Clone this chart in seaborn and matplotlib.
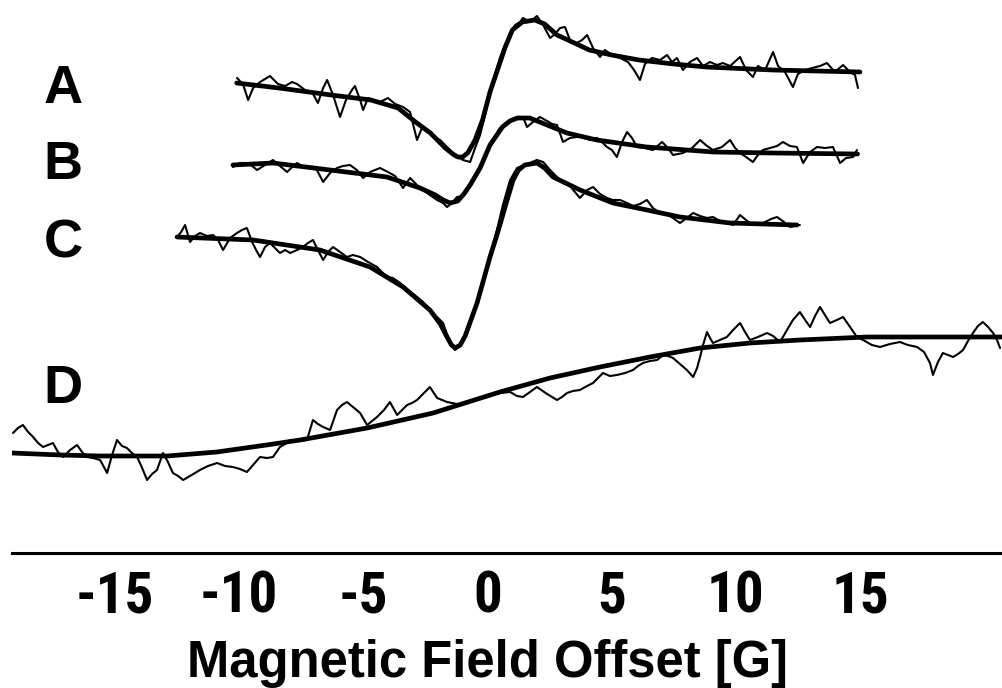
import numpy as np
import pandas as pd
import matplotlib
matplotlib.use("Agg")
import matplotlib.pyplot as plt
from matplotlib import font_manager as fm
import seaborn as sns

# ---------------- data (field offset in G, signal in arbitrary units) ----------------
spectrum_labels = ["A", "B", "C", "D"]
tick_values = [-15, -10, -5, 0, 5, 10, 15]
tick_labels = ["-15", "-10", "-5", "0", "5", "10", "15"]

A_fit = [(-10.1, 467), (-8.4, 462), (-6.3, 455), (-4.7, 450), (-3.6, 442), (-2.9, 428), (-2.3, 417),
         (-1.7, 402), (-1.4, 396), (-1.2, 393), (-1.0, 393), (-0.8, 397), (-0.5, 410), (-0.2, 430),
         (0.1, 458), (0.4, 480), (0.7, 502), (1.0, 520), (1.4, 528), (1.9, 530), (2.3, 526), (2.8, 515),
         (3.5, 507), (4.1, 500), (5.0, 495), (6.1, 490), (7.5, 486), (8.8, 483), (11.5, 480), (15.0, 478)]
A_noise = [(-10.09, 472), (-9.85, 466), (-9.64, 450), (-9.44, 462), (-9.16, 468), (-8.76, 474), (-8.44, 466),
           (-8.15, 464), (-7.87, 468), (-7.67, 466), (-7.35, 460), (-7.07, 458), (-6.83, 447), (-6.62, 462),
           (-6.46, 470), (-6.22, 455), (-5.94, 433), (-5.70, 450), (-5.46, 460), (-5.34, 464), (-5.13, 450),
           (-5.01, 440), (-4.81, 452), (-4.61, 450), (-4.33, 448), (-4.01, 452), (-3.72, 446), (-3.40, 443),
           (-3.12, 438), (-2.84, 410), (-2.64, 422), (-2.40, 420), (-2.19, 413), (-1.91, 410), (-1.63, 403),
           (-1.43, 398), (-1.19, 393), (-0.99, 390), (-0.70, 388), (-0.50, 402), (-0.30, 415), (-0.10, 435),
           (0.10, 455), (0.30, 475), (0.50, 492), (0.70, 505), (0.91, 515), (1.11, 525), (1.31, 528),
           (1.43, 532), (1.71, 528), (1.99, 534), (2.24, 525), (2.52, 512), (2.72, 516), (2.92, 522),
           (3.12, 523), (3.32, 510), (3.52, 506), (3.81, 510), (4.01, 515), (4.25, 502), (4.53, 493),
           (4.73, 500), (5.01, 495), (5.34, 492), (5.66, 488), (5.90, 480), (6.14, 470), (6.34, 486),
           (6.62, 492), (6.95, 490), (7.23, 495), (7.43, 488), (7.63, 492), (7.87, 480), (8.15, 488),
           (8.44, 492), (8.68, 484), (8.96, 488), (9.24, 485), (9.48, 487), (9.77, 484), (10.17, 493),
           (10.41, 480), (10.69, 473), (10.89, 484), (11.18, 480), (11.50, 498), (11.70, 484), (11.98, 478),
           (12.30, 463), (12.50, 476), (12.79, 480), (13.07, 482), (13.39, 484), (13.67, 487), (13.99, 478),
           (14.32, 485), (14.60, 478), (14.80, 475), (14.92, 462)]

B_fit = [(-10.25, 385), (-8.64, 387), (-6.34, 380), (-4.05, 373), (-2.72, 362), (-2.1, 355), (-1.79, 350),
         (-1.5, 347), (-1.2, 349), (-0.95, 356), (-0.7, 365), (-0.3, 382), (0.1, 405), (0.6, 423), (0.9, 429),
         (1.2, 432), (1.7, 432), (2.4, 425), (3.2, 417), (4.4, 410), (6.4, 403), (9.1, 398), (11.5, 397),
         (14.9, 396)]
B_noise = [(-10.25, 383), (-9.97, 387), (-9.69, 387), (-9.48, 384), (-9.28, 380), (-8.96, 385), (-8.64, 390),
           (-8.36, 384), (-8.07, 378), (-7.87, 383), (-7.67, 387), (-7.39, 383), (-7.15, 383), (-6.87, 380),
           (-6.62, 368), (-6.34, 377), (-6.06, 382), (-5.82, 384), (-5.54, 385), (-5.26, 380), (-5.01, 372),
           (-4.73, 378), (-4.53, 380), (-4.33, 382), (-4.01, 378), (-3.72, 374), (-3.40, 362), (-3.12, 372),
           (-2.84, 365), (-2.60, 360), (-2.32, 355), (-2.03, 350), (-1.79, 347), (-1.63, 343), (-1.43, 347),
           (-1.23, 353), (-0.99, 354), (-0.70, 365), (-0.30, 382), (0.10, 405), (0.50, 422), (0.79, 428),
           (1.03, 430), (1.23, 431), (1.43, 433), (1.59, 423), (1.83, 428), (2.11, 433), (2.40, 429),
           (2.60, 426), (2.80, 425), (3.04, 408), (3.32, 412), (3.60, 413), (3.85, 413), (4.13, 410),
           (4.41, 412), (4.61, 408), (4.81, 403), (5.01, 400), (5.21, 393), (5.42, 408), (5.62, 418),
           (5.82, 412), (6.02, 403), (6.34, 402), (6.66, 400), (7.03, 408), (7.27, 402), (7.47, 395),
           (7.87, 397), (8.24, 402), (8.56, 410), (8.84, 404), (9.08, 400), (9.44, 403), (9.77, 410),
           (9.97, 402), (10.17, 397), (10.41, 393), (10.69, 388), (10.89, 395), (11.09, 400), (11.38, 402),
           (11.66, 404), (11.90, 408), (12.18, 404), (12.46, 403), (12.71, 387), (12.99, 398), (13.27, 403),
           (13.59, 402), (13.91, 403), (14.20, 387), (14.44, 392), (14.72, 393), (14.88, 400)]

C_fit = [(-12.5, 313), (-9.44, 310), (-6.75, 300), (-4.73, 283), (-3.4, 263), (-2.32, 240), (-1.9, 226),
         (-1.63, 213), (-1.45, 205), (-1.3, 202), (-1.1, 205), (-0.9, 214), (-0.42, 247), (0.1, 293),
         (0.38, 315), (0.79, 350), (1.03, 370), (1.25, 380), (1.5, 385), (1.99, 387), (2.3, 382), (2.64, 373),
         (3.73, 360), (5.05, 347), (6.42, 340), (7.75, 333), (9.77, 327), (12.46, 325)]
C_noise = [(-12.50, 313), (-12.34, 318), (-12.18, 325), (-11.98, 308), (-11.78, 314), (-11.58, 317),
           (-11.30, 314), (-11.05, 315), (-10.85, 310), (-10.65, 300), (-10.37, 312), (-10.09, 317),
           (-9.89, 320), (-9.69, 322), (-9.48, 308), (-9.32, 300), (-9.16, 293), (-8.96, 303), (-8.76, 307),
           (-8.56, 302), (-8.36, 297), (-8.15, 300), (-7.95, 297), (-7.67, 300), (-7.43, 303), (-7.23, 307),
           (-7.03, 310), (-6.83, 300), (-6.62, 290), (-6.42, 298), (-6.22, 303), (-5.94, 298), (-5.66, 293),
           (-5.42, 295), (-5.13, 293), (-4.81, 288), (-4.45, 283), (-4.05, 273), (-3.81, 272), (-3.52, 267),
           (-3.20, 260), (-2.84, 253), (-2.60, 248), (-2.32, 240), (-2.03, 233), (-1.79, 227), (-1.51, 207),
           (-1.31, 200), (-1.11, 205), (-0.91, 215), (-0.62, 232), (-0.30, 260), (0.10, 295), (0.38, 320),
           (0.62, 345), (0.91, 370), (1.19, 382), (1.39, 384), (1.59, 385), (1.79, 388), (1.99, 390),
           (2.24, 388), (2.52, 380), (2.80, 373), (3.04, 367), (3.32, 364), (3.52, 358), (3.72, 352),
           (4.01, 360), (4.25, 363), (4.53, 356), (4.81, 352), (5.05, 350), (5.34, 350), (5.62, 347),
           (5.86, 344), (6.14, 346), (6.42, 350), (6.66, 342), (6.95, 337), (7.23, 336), (7.47, 332),
           (7.75, 327), (8.03, 332), (8.28, 337), (8.56, 334), (8.84, 332), (9.08, 333), (9.36, 329),
           (9.64, 328), (9.89, 325), (10.17, 335), (10.41, 330), (10.65, 325), (10.85, 325), (11.18, 328),
           (11.42, 331), (11.66, 333), (11.94, 328), (12.18, 323), (12.38, 324), (12.58, 325)]

D_fit = [(-19.15, 97), (-17.2, 95), (-15.6, 94), (-12.9, 94), (-10.9, 98), (-8.9, 105), (-7.55, 110),
         (-4.85, 122), (-2.19, 137), (0.5, 158), (2.52, 172), (4.53, 183), (6.54, 193), (8.56, 202),
         (10.57, 207), (12.59, 210), (15.28, 213), (17.8, 213), (20.76, 213)]
D_noise = [(-19.11, 117), (-18.91, 122), (-18.71, 125), (-18.50, 118), (-18.30, 113), (-18.10, 107),
           (-17.90, 103), (-17.70, 105), (-17.50, 107), (-17.30, 98), (-17.09, 93), (-16.81, 100),
           (-16.53, 105), (-16.33, 98), (-16.13, 93), (-15.89, 92), (-15.60, 90), (-15.32, 77), (-15.12, 95),
           (-14.92, 110), (-14.72, 104), (-14.52, 102), (-14.32, 97), (-14.11, 93), (-13.91, 82), (-13.71, 70),
           (-13.51, 76), (-13.31, 80), (-13.07, 97), (-12.87, 88), (-12.67, 77), (-12.46, 74), (-12.26, 70),
           (-11.98, 74), (-11.58, 80), (-11.26, 84), (-10.89, 87), (-10.57, 84), (-10.25, 83), (-9.97, 81),
           (-9.69, 78), (-9.44, 85), (-9.16, 93), (-8.88, 92), (-8.64, 93), (-8.36, 103), (-8.15, 106),
           (-7.95, 110), (-7.63, 109), (-7.27, 110), (-7.03, 130), (-6.83, 126), (-6.62, 123), (-6.34, 120),
           (-6.06, 140), (-5.86, 145), (-5.66, 148), (-5.42, 143), (-5.13, 137), (-4.85, 125), (-4.65, 129),
           (-4.45, 133), (-4.17, 140), (-3.93, 148), (-3.64, 135), (-3.44, 140), (-3.24, 145), (-3.04, 147),
           (-2.84, 150), (-2.60, 156), (-2.32, 163), (-2.03, 152), (-1.83, 150), (-1.63, 148), (-1.23, 146),
           (-0.83, 147), (-0.50, 150), (-0.18, 153), (0.18, 155), (0.50, 157), (0.91, 158), (1.19, 154),
           (1.43, 153), (1.71, 158), (1.99, 163), (2.40, 156), (2.80, 150), (3.00, 153), (3.20, 157),
           (3.44, 159), (3.72, 160), (4.01, 164), (4.25, 167), (4.45, 172), (4.65, 177), (4.93, 174),
           (5.21, 175), (5.54, 177), (5.86, 180), (6.06, 184), (6.26, 187), (6.54, 189), (6.83, 190),
           (7.07, 195), (7.27, 194), (7.47, 192), (7.75, 186), (8.03, 180), (8.28, 173), (8.44, 182),
           (8.56, 193), (8.68, 205), (8.84, 218), (8.96, 212), (9.08, 207), (9.36, 210), (9.64, 213),
           (9.89, 220), (10.17, 227), (10.37, 218), (10.57, 210), (10.89, 213), (11.26, 217), (11.50, 214),
           (11.78, 208), (12.06, 220), (12.30, 230), (12.58, 238), (12.79, 230), (12.99, 223), (13.19, 234),
           (13.39, 243), (13.59, 235), (13.79, 227), (14.07, 230), (14.32, 233), (14.60, 223), (14.88, 213),
           (15.20, 209), (15.48, 205), (15.81, 203), (16.21, 206), (16.61, 208), (16.93, 205), (17.30, 203),
           (17.58, 198), (17.82, 187), (17.94, 175), (18.14, 188), (18.34, 197), (18.54, 195), (18.75, 193),
           (18.95, 196), (19.15, 200), (19.35, 209), (19.55, 217), (19.75, 224), (19.95, 228), (20.16, 223),
           (20.36, 217), (20.52, 210), (20.64, 202)]


def frame(pairs, spectrum, kind):
    arr = np.array(pairs, dtype=float)
    return pd.DataFrame({"field": arr[:, 0], "signal": arr[:, 1],
                         "spectrum": spectrum, "kind": kind})


noise_sets = {"A": A_noise, "B": B_noise, "C": C_noise, "D": D_noise}
fit_sets = {"A": A_fit, "B": B_fit, "C": C_fit, "D": D_fit}

# ---------------- fonts ----------------
sns.set_style("white")
plt.rcParams["font.family"] = ["Liberation Sans", "DejaVu Sans"]
plt.rcParams["axes.unicode_minus"] = False
plt.rcParams["text.color"] = "black"
plt.rcParams["axes.labelcolor"] = "black"
plt.rcParams["xtick.color"] = "black"

installed = {f.name for f in fm.fontManager.ttflist}
tick_font = fm.FontProperties(family=["Liberation Sans", "DejaVu Sans"], weight="bold", size=38)
for cand in ["Liberation Sans Narrow", "Arial Narrow", "Roboto Condensed", "Open Sans Condensed"]:
    if cand in installed:
        tick_font = fm.FontProperties(family=[cand], weight="bold", size=41)
        break

# ---------------- figure ----------------
fig = plt.figure(figsize=(10.03, 6.88), dpi=100)
ax = fig.add_axes([12 / 1003, 135 / 688, 991 / 1003, 553 / 688])

for name in spectrum_labels:
    dn = frame(noise_sets[name], name, "data")
    df = frame(fit_sets[name], name, "fit")
    sns.lineplot(data=dn, x="field", y="signal", ax=ax, color="black", lw=1.5,
                 sort=False, estimator=None, legend=False)
    sns.lineplot(data=df, x="field", y="signal", ax=ax, color="black", lw=3.4,
                 sort=False, estimator=None, legend=False)

ax.set_xlim(-19.15, 20.76)
ax.set_ylim(-3, 550)

for s in ["left", "top", "right"]:
    ax.spines[s].set_visible(False)
ax.spines["bottom"].set_linewidth(2.2)
ax.spines["bottom"].set_color("black")
ax.set_yticks([])
ax.set_ylabel("")
ax.set_xticks(tick_values)
ax.set_xticklabels(tick_labels, fontproperties=tick_font, color="black")
ax.tick_params(axis="x", direction="in", length=12, width=2, pad=12, colors="black")
ax.set_xlabel("Magnetic Field Offset [G]", fontsize=36.5, fontweight="bold", color="black")
ax.xaxis.set_label_coords((487.5 - 12) / 991, -0.155)
ax.xaxis.label.set_va("top")

label_y = {"A": 461, "B": 385, "C": 306, "D": 161}
for name in spectrum_labels:
    ax.text(-17.1, label_y[name], name, fontsize=39, fontweight="bold", color="black",
            family=["Liberation Sans", "DejaVu Sans"], ha="center", va="center")

fig.savefig("out.png", dpi=100)
